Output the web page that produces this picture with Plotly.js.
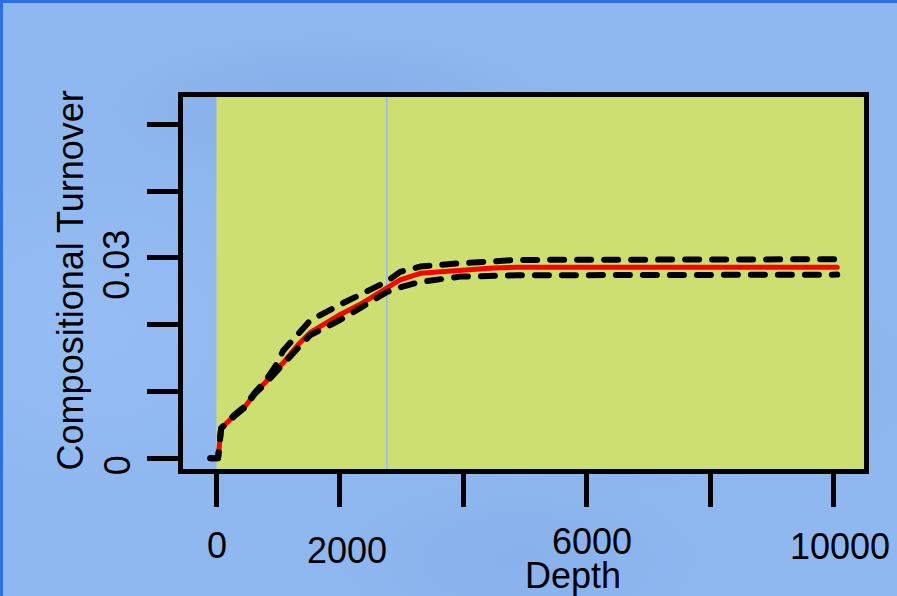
<!DOCTYPE html>
<html>
<head>
<meta charset="utf-8">
<script src="https://cdn.plot.ly/plotly-3.0.1.min.js"></script>
<style>
  html, body { margin: 0; padding: 0; }
  #chart {
    width: 897px; height: 596px;
    box-shadow: inset 3px 3px 0 #2a70e4;
    background:
      radial-gradient(ellipse 260px 90px at 330px 110px, rgba(110,150,215,0.35), rgba(110,150,215,0) 100%),
      radial-gradient(ellipse 300px 120px at 700px 380px, rgba(115,155,220,0.30), rgba(115,155,220,0) 100%),
      radial-gradient(ellipse 220px 160px at 90px 330px, rgba(160,200,250,0.35), rgba(160,200,250,0) 100%),
      radial-gradient(ellipse 260px 120px at 520px 560px, rgba(120,160,225,0.30), rgba(120,160,225,0) 100%),
      #90b8f0;
  }
  .scatterlayer .js-line { stroke-linecap: round; stroke-linejoin: round; }
</style>
</head>
<body>
<div id="chart"></div>
<script>
// Depth grid and fitted compositional turnover with its bounds
const depth = [-100, 25, 75, 170, 300, 460, 625, 785, 950, 1080, 1320, 1515, 2000, 2375, 2765, 2975, 3300, 3945, 4480, 4870, 10060];
const turnover = [0, 0, 0.0045, 0.0054, 0.0065, 0.0077, 0.0098, 0.0113, 0.0132, 0.0143, 0.0170, 0.0188, 0.0215, 0.0233, 0.0255, 0.0267, 0.0277, 0.0282, 0.0285, 0.0286, 0.0286];
const upperBound = [0, 0, 0.0045, 0.0054, 0.0066, 0.0078, 0.0099, 0.0115, 0.0137, 0.0161, 0.0186, 0.0206, 0.0230, 0.0247, 0.0265, 0.0279, 0.0287, 0.0292, 0.0295, 0.0297, 0.0298];
const lowerBound = [0, 0, 0.0045, 0.0054, 0.0064, 0.0076, 0.0097, 0.0111, 0.0129, 0.0141, 0.0165, 0.0184, 0.0207, 0.0228, 0.0249, 0.0256, 0.0264, 0.0272, 0.0274, 0.0274, 0.0275];

// Axis ticks and their labels
const xTickVals = [0, 2000, 4000, 6000, 8000, 10000];
const xTickText = ['0', '2000', '', '6000', '', '10000'];
const yTickVals = [0, 0.01, 0.02, 0.03, 0.04, 0.05];
const yTickText = ['0', '', '', '0.03', '', ''];

// Shaded sampling range starts at depth 0; marker line at this depth
const shadeStart = 0;
const markerDepth = 2760;

const xRange = [-543, 10494];
const yRange = [-0.0016, 0.05409];
const FONT = '"Liberation Sans", Arial, sans-serif';
const textFont = { family: FONT, size: 36, color: '#000000' };

// Per-label nudges (px) for the staggered depth labels
const xLabelShift = [0, 7, 0, 5, 0, 6];
const xLabelLift = [0, -5, 0, 4, 0, -1];

const traces = [
  { x: depth, y: turnover, mode: 'lines', line: { color: '#ff0000', width: 5 }, hoverinfo: 'skip' },
  { x: depth, y: upperBound, mode: 'lines', line: { color: '#000000', width: 6, dash: '14px,13px' }, hoverinfo: 'skip' },
  { x: depth, y: lowerBound, mode: 'lines', line: { color: '#000000', width: 6, dash: '14px,13px' }, hoverinfo: 'skip' }
];

const axisCommon = {
  showline: true, mirror: true, linewidth: 5, linecolor: '#000000',
  showgrid: false, zeroline: false, showticklabels: false,
  ticks: 'outside', tickwidth: 5, tickcolor: '#000000',
  fixedrange: true
};

const annotations = [];
xTickVals.forEach((v, i) => {
  if (!xTickText[i]) return;
  annotations.push({ text: xTickText[i], xref: 'x', yref: 'paper', x: v, y: -0.2056,
    xanchor: 'center', yanchor: 'middle', xshift: xLabelShift[i], yshift: xLabelLift[i],
    showarrow: false, font: textFont });
});
yTickVals.forEach((v, i) => {
  if (!yTickText[i]) return;
  annotations.push({ text: yTickText[i], xref: 'paper', yref: 'y', x: -0.097, y: v,
    xanchor: 'center', yanchor: 'middle', yshift: -7, textangle: -90,
    showarrow: false, font: textFont });
});
annotations.push(
  { text: 'Compositional Turnover', xref: 'paper', yref: 'paper', x: -0.165, y: 0.506,
    xanchor: 'center', yanchor: 'middle', textangle: -90, showarrow: false, font: textFont },
  { text: 'Depth', xref: 'paper', yref: 'paper', x: 0.5727, y: -0.286, xanchor: 'center', yanchor: 'middle',
    showarrow: false, font: textFont }
);

const layout = {
  width: 897, height: 596,
  margin: { l: 183, r: 33, t: 97, b: 127, pad: 0 },
  paper_bgcolor: 'rgba(0,0,0,0)',
  plot_bgcolor: 'rgba(0,0,0,0)',
  showlegend: false,
  font: textFont,
  xaxis: Object.assign({}, axisCommon, {
    range: xRange, tickmode: 'array', tickvals: xTickVals, ticklen: 33
  }),
  yaxis: Object.assign({}, axisCommon, {
    range: yRange, tickmode: 'array', tickvals: yTickVals, ticklen: 31
  }),
  shapes: [
    { type: 'rect', layer: 'below', xref: 'x', yref: 'paper', x0: shadeStart, x1: xRange[1], y0: 0, y1: 1,
      fillcolor: 'rgb(206,223,113)', line: { width: 0 } },
    { type: 'line', layer: 'below', xref: 'x', yref: 'paper', x0: markerDepth, x1: markerDepth, y0: 0, y1: 1,
      line: { color: 'rgb(145,185,245)', width: 1.5 } }
  ],
  annotations: annotations
};

Plotly.newPlot('chart', traces, layout, { staticPlot: true, displayModeBar: false });
</script>
</body>
</html>
